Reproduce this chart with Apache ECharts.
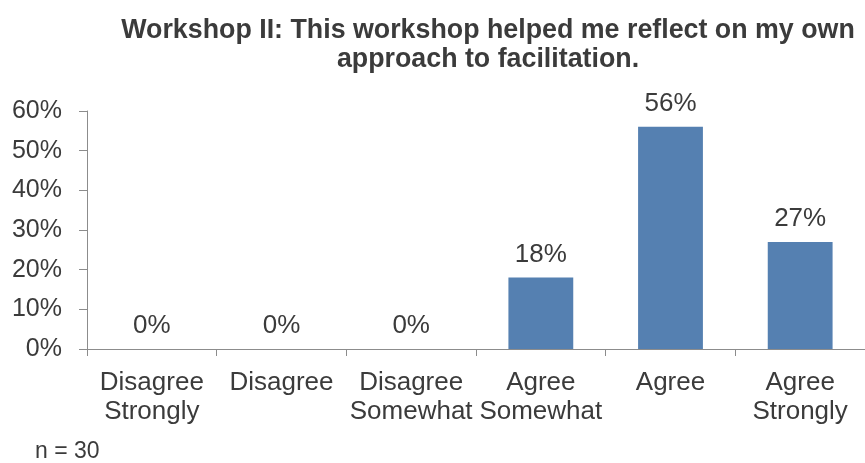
<!DOCTYPE html>
<html>
<head>
<meta charset="utf-8">
<script src="https://cdn.jsdelivr.net/npm/echarts@6/dist/echarts.min.js"></script>
<style>
  html, body { margin: 0; padding: 0; background: #fff; }
  #chart { width: 865px; height: 463px; }
</style>
</head>
<body>
<div id="chart"></div>
<script>
// Survey response categories and share of respondents (%)
const categories = [
  'Disagree\nStrongly',
  'Disagree',
  'Disagree\nSomewhat',
  'Agree\nSomewhat',
  'Agree',
  'Agree\nStrongly'
];
const percentages = [0, 0, 0, 18, 56, 27];
const yTicks = [0, 10, 20, 30, 40, 50, 60];
const titleText = 'Workshop II: This workshop helped me reflect on my own\napproach to facilitation.';
const noteText = 'n = 30';

const textColor = '#3b3b3b';
const axisColor = '#8c8c8c';
const font = 'Liberation Sans, Arial, sans-serif';

const chart = echarts.init(document.getElementById('chart'), null, { renderer: 'canvas' });

chart.setOption({
  animation: false,
  backgroundColor: '#ffffff',
  title: {
    text: titleText,
    left: 483,
    top: 11,
    textAlign: 'center',
    textStyle: {
      fontFamily: font,
      fontWeight: 'bold',
      fontSize: 26.8,
      lineHeight: 29,
      color: textColor
    }
  },
  graphic: [{
    type: 'text',
    left: 35,
    top: 440,
    style: {
      text: noteText,
      fontFamily: font,
      fontSize: 23,
      fill: textColor
    }
  }],
  grid: {
    left: 87,
    right: 0,
    top: 111,
    bottom: 114,
    containLabel: false
  },
  xAxis: {
    type: 'category',
    data: categories,
    axisLine: { show: true, lineStyle: { color: axisColor, width: 1 } },
    axisTick: { show: true, length: 7, lineStyle: { color: axisColor } },
    axisLabel: {
      interval: 0,
      margin: 19,
      fontFamily: font,
      fontSize: 26,
      lineHeight: 29,
      color: textColor
    },
    splitLine: { show: false }
  },
  yAxis: {
    type: 'value',
    min: yTicks[0],
    max: yTicks[yTicks.length - 1],
    interval: yTicks[1] - yTicks[0],
    axisLine: { show: true, lineStyle: { color: axisColor, width: 1 } },
    axisTick: { show: true, length: 8, lineStyle: { color: axisColor } },
    axisLabel: {
      margin: 25,
      fontFamily: font,
      fontSize: 25,
      color: textColor,
      formatter: v => v + '%'
    },
    splitLine: { show: false }
  },
  series: [{
    type: 'bar',
    data: percentages,
    barWidth: '50%',
    itemStyle: { color: '#5580b1' },
    label: {
      show: true,
      position: 'top',
      distance: 10,
      fontFamily: font,
      fontSize: 26,
      color: textColor,
      formatter: p => p.value + '%'
    }
  }]
});
</script>
</body>
</html>
